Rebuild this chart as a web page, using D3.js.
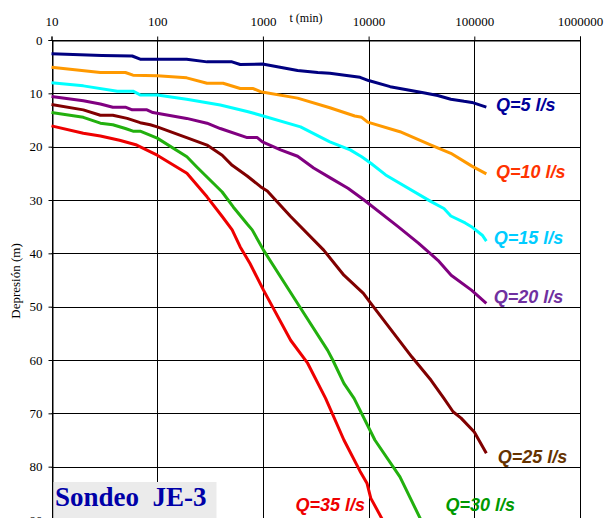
<!DOCTYPE html>
<html>
<head>
<meta charset="utf-8">
<script src="https://cdn.jsdelivr.net/npm/d3@7"></script>
<style>
  body { margin: 0; background: #fff; }
  svg { display: block; }
</style>
</head>
<body>
<div id="chart-area"></div>
<script>
// tick values
let xTicks = [10, 100, 1000, 10000, 100000, 1000000];
let yTicks = [0, 10, 20, 30, 40, 50, 60, 70, 80, 90];

// series: [t (min), depresion (m)]
let q5 = [[10,2.6],[30,2.9],[58,3.0],[69,3.6],[100,3.6],[190,3.6],[296,4.1],[510,4.1],[610,4.6],[990,4.5],[2130,5.7],[3300,6.1],[4300,6.25],[5950,6.6],[8300,7.0],[10000,7.6],[16000,8.75],[33000,9.9],[45000,10.4],[60000,11.1],[80000,11.5],[95000,11.7],[130000,12.6]];
let q10 = [[10,5.1],[29,6.1],[50,6.1],[59,6.6],[100,6.7],[190,7.1],[296,8.1],[420,8.1],[610,9.1],[810,9.1],[950,9.7],[2130,10.9],[4300,12.7],[7400,14.25],[8600,14.5],[9800,15.4],[19800,17.2],[39000,19.7],[60000,21.25],[94000,23.6],[130000,25.1]];
let q15 = [[10,8.0],[20,8.6],[42,9.6],[59,9.6],[69,10.3],[100,10.3],[190,11.1],[395,12.2],[710,13.4],[950,14.1],[2270,16.3],[4300,19.1],[6700,20.6],[8600,21.9],[10500,23.1],[14500,25.3],[39000,30.3],[51600,31.6],[60000,33.0],[82000,34.3],[94000,35.0],[119000,36.6],[130000,37.7]];
let q20 = [[10,10.6],[20,11.4],[29,12.0],[38,12.6],[50,12.6],[58,13.1],[80,13.1],[91,13.6],[190,14.7],[296,15.6],[395,16.6],[710,18.3],[885,18.3],[990,19.1],[1470,20.6],[2130,21.8],[3020,24.0],[4380,25.9],[6380,27.8],[8930,29.9],[19000,35.0],[29600,38.1],[45300,41.3],[60400,44.1],[94000,46.9],[130000,49.4]];
let q25 = [[10,12.1],[20,13.1],[29,14.1],[38,14.1],[52,14.7],[69,15.5],[86,15.9],[100,16.3],[190,18.3],[296,19.7],[412,21.6],[512,23.5],[710,25.5],[950,27.5],[1100,28.3],[1830,33.1],[3760,39.4],[5840,44.1],[8930,47.5],[10500,49.4],[25600,59.4],[39000,63.8],[51600,67.2],[63000,69.7],[75000,70.9],[100000,73.5],[130000,77.5]];
let q30 = [[10,13.6],[20,14.5],[29,15.6],[38,15.9],[50,16.6],[59,17.1],[69,17.1],[100,18.4],[191,21.9],[237,23.8],[412,28.5],[524,31.3],[710,34.5],[792,35.6],[1013,39.4],[2130,49.4],[4100,58.2],[4580,60.0],[5840,64.4],[7290,67.2],[11460,75.0],[19800,81.9],[30600,89.6],[36000,93.0]];
let q35 = [[10,16.1],[20,17.5],[29,18.0],[44,18.8],[64,19.7],[100,21.6],[191,25.0],[296,29.4],[412,33.1],[512,35.6],[610,38.8],[755,41.9],[1013,46.9],[1830,56.3],[2650,60.6],[3920,67.2],[5840,75.0],[8270,80.8],[9650,83.1],[10480,85.9],[13330,89.7],[15000,92.0]];

let seriesNames = ["Q=5 l/s", "Q=10 l/s", "Q=15 l/s", "Q=20 l/s", "Q=25 l/s", "Q=30 l/s", "Q=35 l/s"];
let seriesData = [q5, q10, q15, q20, q25, q30, q35];
let lineColors = ["#000080", "#FF9900", "#00FFFF", "#800080", "#800000", "#22B00E", "#EE0000"];
let labelColors = ["#000099", "#FF3300", "#00CCFF", "#7030A0", "#663300", "#009900", "#EE0000"];
// label anchors in data units [t, depresion]
let labelAt = [[160000,13.3],[160000,25.8],[153000,38.3],[153000,49.3],[167000,79.4],[53300,88.4],[2030,88.4]];

let W = 605, H = 518;
let margin = {top: 40, left: 51.5, right: 25};
let plotBottom = 520;

let svg = d3.select("#chart-area").append("svg")
    .attr("width", W)
    .attr("height", H);

let x = d3.scaleLog()
    .domain([10, 1000000])
    .range([margin.left, W - margin.right]);

let y = d3.scaleLinear()
    .domain([0, 90])
    .range([margin.top, plotBottom]);

// grid
svg.append("g").selectAll("line")
    .data(xTicks)
    .join("line")
    .attr("x1", d => Math.round(x(d)) + 0.5)
    .attr("x2", d => Math.round(x(d)) + 0.5)
    .attr("y1", y(0))
    .attr("y2", y(90))
    .attr("stroke", "#000")
    .attr("stroke-width", 1);

svg.append("g").selectAll("line")
    .data(yTicks)
    .join("line")
    .attr("x1", x(10))
    .attr("x2", x(1000000))
    .attr("y1", d => Math.round(y(d)) + 0.5)
    .attr("y2", d => Math.round(y(d)) + 0.5)
    .attr("stroke", "#000")
    .attr("stroke-width", 1);

// axes
let xAxis = d3.axisTop(x)
    .tickValues(xTicks)
    .tickFormat(d3.format("d"))
    .tickSize(4)
    .tickPadding(11);

let yAxis = d3.axisLeft(y)
    .tickValues(yTicks)
    .tickSize(4)
    .tickPadding(6);

svg.append("g")
    .attr("transform", "translate(0," + (Math.round(y(0)) + 0.5) + ")")
    .call(xAxis)
    .call(g => g.selectAll("text").attr("font-family", "Liberation Serif, serif").attr("font-size", 13).attr("fill", "#000"));

svg.append("g")
    .attr("transform", "translate(" + (Math.round(x(10)) + 0.5) + ",0)")
    .call(yAxis)
    .call(g => g.selectAll("text").attr("font-family", "Liberation Serif, serif").attr("font-size", 13).attr("fill", "#000"));

// axis titles
svg.append("text")
    .attr("x", 306)
    .attr("y", 22)
    .attr("text-anchor", "middle")
    .attr("font-family", "Liberation Serif, serif")
    .attr("font-size", 12)
    .text("t (min)");

svg.append("text")
    .attr("transform", "translate(20,281) rotate(-90)")
    .attr("text-anchor", "middle")
    .attr("font-family", "Liberation Serif, serif")
    .attr("font-size", 13)
    .text("Depresión (m)");

// lines
let line = d3.line()
    .x(d => x(d[0]))
    .y(d => y(d[1]))
    .curve(d3.curveLinear);

svg.append("g").selectAll("path")
    .data(seriesData)
    .join("path")
    .attr("fill", "none")
    .attr("stroke", (d, i) => lineColors[i])
    .attr("stroke-width", 3)
    .attr("stroke-linejoin", "round")
    .attr("d", line);

// series labels
svg.append("g").selectAll("text")
    .data(seriesNames)
    .join("text")
    .attr("x", (d, i) => x(labelAt[i][0]))
    .attr("y", (d, i) => y(labelAt[i][1]))
    .attr("fill", (d, i) => labelColors[i])
    .attr("font-family", "Liberation Sans, Arial, sans-serif")
    .attr("font-weight", "bold")
    .attr("font-style", "italic")
    .attr("font-size", 18)
    .text(d => d);

// title box
let box = svg.append("g");
box.append("rect")
    .attr("x", 53.5)
    .attr("y", 482)
    .attr("width", 163)
    .attr("height", 40)
    .attr("fill", "#EBEBEB");
box.append("text")
    .attr("x", 55)
    .attr("y", 506)
    .attr("fill", "#0000A8")
    .attr("font-family", "Liberation Serif, serif")
    .attr("font-weight", "bold")
    .attr("font-size", 27)
    .style("white-space", "pre")
    .text("Sondeo  JE-3");
</script>
</body>
</html>
